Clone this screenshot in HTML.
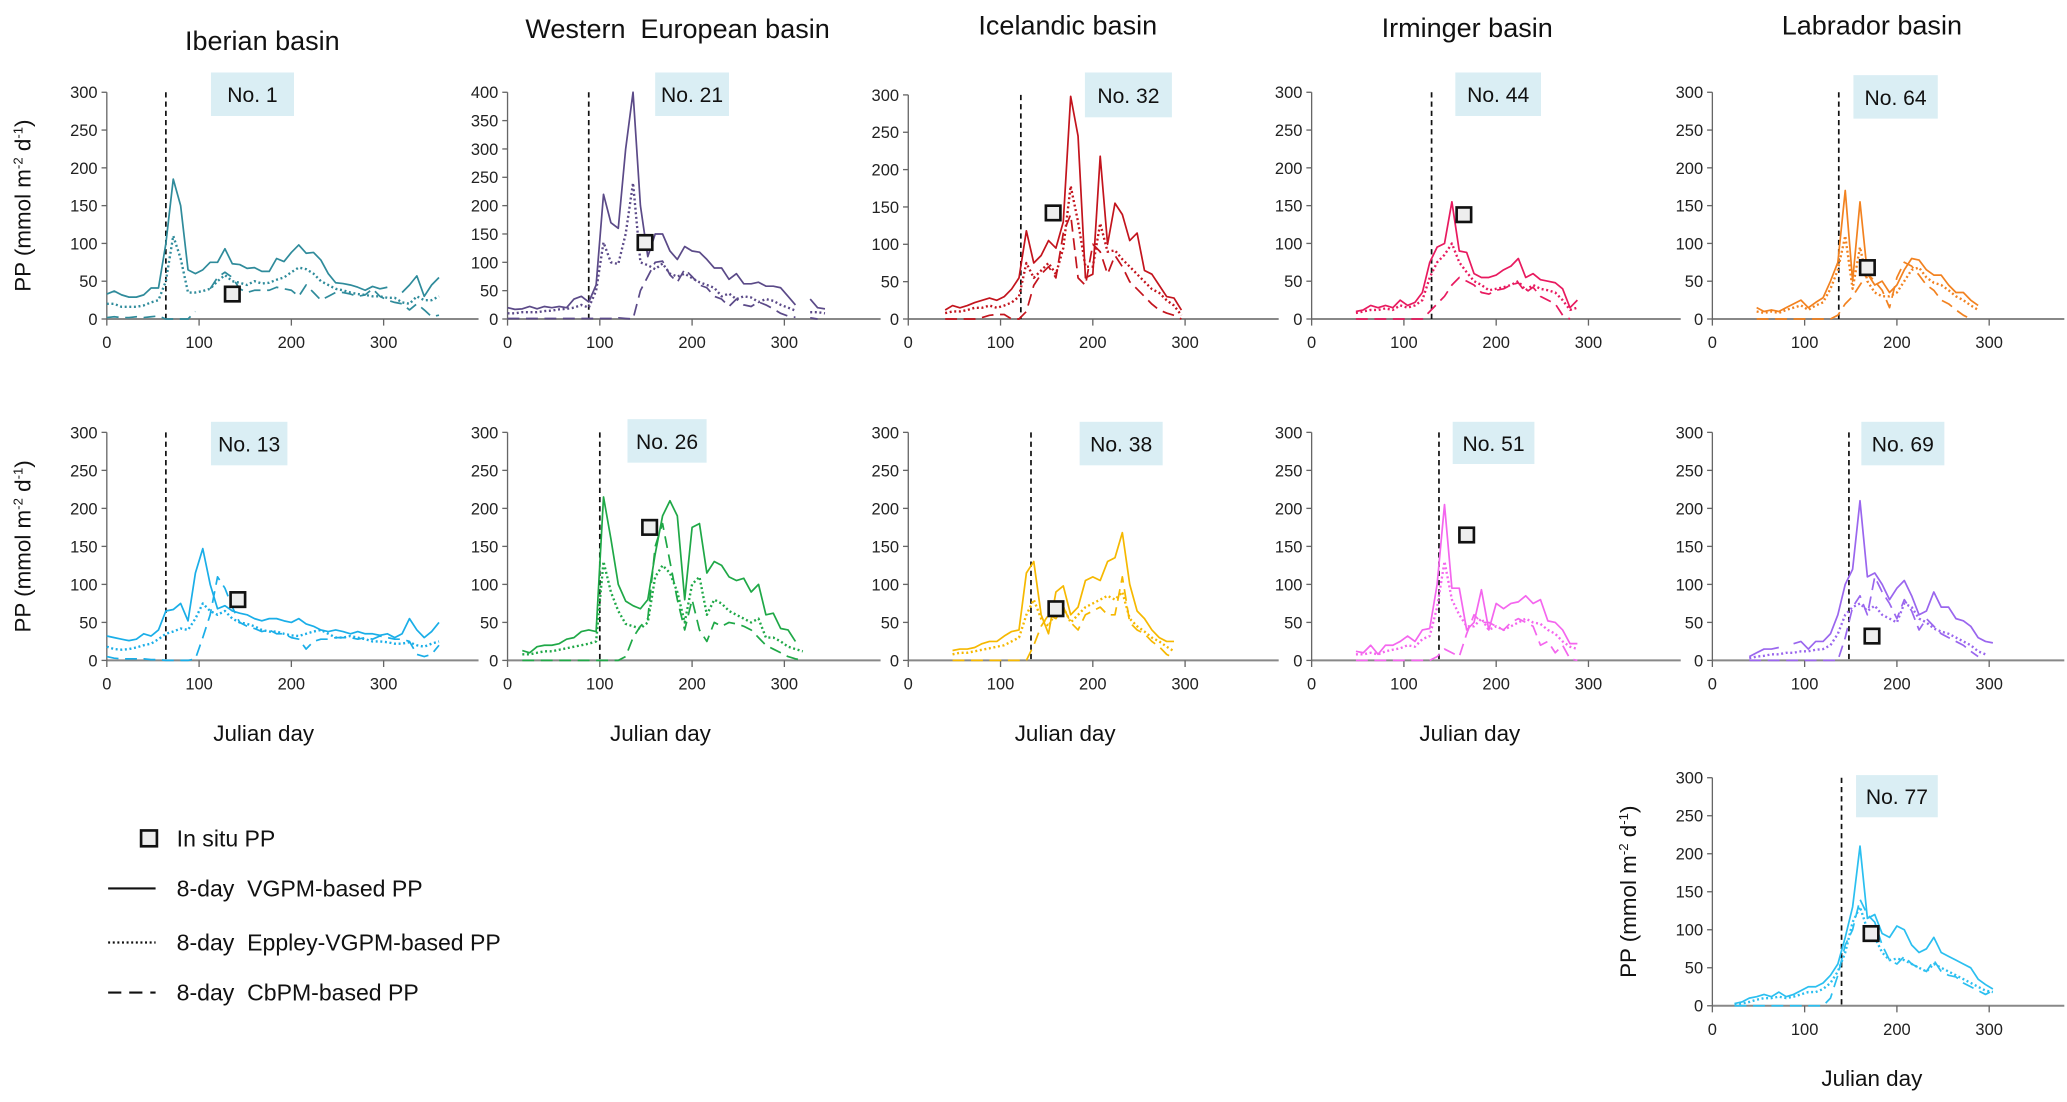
<!DOCTYPE html>
<html><head><meta charset="utf-8"><style>
html,body{margin:0;padding:0;background:#fff;}
svg{display:block;font-family:"Liberation Sans",sans-serif;}
.tk{font-family:"Liberation Sans Narrow","Liberation Sans",sans-serif;font-size:12.5px;fill:#222;}
</style></head><body>
<svg id="chart" width="2067" height="1102" viewBox="0 0 1568 836" xmlns="http://www.w3.org/2000/svg">
<g font-size="20.5" fill="#111" text-anchor="middle">
<text x="199" y="38">Iberian basin</text>
<text x="514" y="29">Western&#160; European basin</text>
<text x="810" y="26">Icelandic basin</text>
<text x="1113" y="28">Irminger basin</text>
<text x="1420" y="26">Labrador basin</text>
</g>
<g font-size="17.5" fill="#111">
<rect x="107" y="630" width="12" height="12" fill="#eee" stroke="#111" stroke-width="2"/>
<text x="134" y="642">In situ PP</text>
<line x1="82" y1="674" x2="118" y2="674" stroke="#111" stroke-width="1.6"/>
<text x="134" y="680">8-day&#160; VGPM-based PP</text>
<line x1="82" y1="715" x2="118" y2="715" stroke="#111" stroke-width="1.8" stroke-dasharray="1.5,2"/>
<text x="134" y="721">8-day&#160; Eppley-VGPM-based PP</text>
<line x1="82" y1="753" x2="118" y2="753" stroke="#111" stroke-width="1.6" stroke-dasharray="10,6"/>
<text x="134" y="759">8-day&#160; CbPM-based PP</text>
</g>
</svg>
<script>
// ---- data ----
const p1_start=0, p1_solid=[33,37,32,29,29,32,41,41,100,185,150,65,60,65,75,75,93,73,72,67,68,63,63,80,76,88,98,87,88,78,60,48,47,45,42,38,43,40,42,null,35,45,57,30,45,55];
const p1_dot=[20,20,16,16,16,18,22,25,50,110,80,35,35,37,40,50,58,50,48,45,50,47,48,52,55,62,68,66,60,50,45,40,38,35,33,32,30,30,28,28,22,20,30,25,25,30];
const p1_dash=[2,3,2,2,3,2,3,4,0,0,0,0,10,null,40,55,62,55,40,35,38,38,38,42,40,38,30,45,35,25,30,35,35,33,30,32,40,30,25,22,20,12,20,12,3,5];
const p1_insitu=[136,33];
const p21_start=0, p21_solid=[20,17,18,22,18,22,20,22,20,35,40,30,60,220,170,160,300,400,200,110,150,150,120,105,128,120,118,105,90,90,70,80,62,62,65,58,58,55,40,25,null,35,20,18];
const p21_dot=[10,10,12,12,12,14,15,17,18,20,25,20,50,135,100,97,150,240,100,95,88,98,80,75,80,72,65,60,55,40,45,35,40,38,30,35,32,25,20,15,null,12,12,10];
const p21_dash=[1,1,1,1,1,1,1,1,1,1,1,1,1,1,1,2,1,0,50,75,100,102,78,65,88,75,60,55,40,35,22,35,25,22,30,25,18,10,5,3,null,2,0,null];
const p21_insitu=[149,135];
const p32_start=40, p32_solid=[12,18,15,18,22,25,28,25,30,40,55,118,75,85,105,95,130,298,245,55,60,218,100,155,140,105,115,65,60,45,30,28,12];
const p32_dot=[8,10,10,12,15,15,18,15,18,22,30,75,55,65,75,60,95,178,130,70,70,128,90,92,80,70,60,50,40,35,25,18,5];
const p32_dash=[0,0,0,0,0,2,5,6,6,0,0,10,45,60,70,55,115,140,55,45,100,90,60,85,70,50,40,30,20,12,8,5,0];
const p32_insitu=[157,142];
const p44_start=48, p44_solid=[10,12,18,15,18,15,25,18,22,35,75,95,100,155,90,88,60,55,55,58,65,70,80,55,60,52,50,48,40,15,25];
const p44_dot=[8,10,12,12,14,12,18,15,18,25,55,75,85,100,75,62,50,45,38,40,42,45,50,38,45,40,38,35,25,12,15];
const p44_dash=[0,0,0,0,0,0,0,0,0,0,10,20,30,45,55,50,45,35,33,38,40,45,48,35,42,30,25,20,5,0,null];
const p44_insitu=[165,138];
const p64_start=48, p64_solid=[15,10,12,10,15,20,25,15,22,28,50,75,170,50,155,60,45,50,35,45,65,80,78,65,58,58,45,35,35,25,18];
const p64_dot=[10,8,10,8,12,15,18,12,18,22,40,65,110,40,95,50,35,30,30,35,50,65,68,55,48,45,38,30,25,18,12];
const p64_dash=[0,0,0,0,0,0,0,0,0,0,0,5,20,30,45,60,50,38,15,55,75,70,58,45,38,25,20,12,5,0,null];
const p64_insitu=[168,68];
const p13_start=0, p13_solid=[32,30,28,26,28,35,32,40,65,67,75,52,115,147,100,68,72,65,62,60,55,52,55,55,52,50,55,48,45,40,38,40,38,35,38,35,35,33,35,30,35,55,40,30,38,50];
const p13_dot=[18,15,14,15,17,20,22,28,35,38,42,40,55,75,65,60,65,55,50,48,45,40,38,38,35,33,32,35,38,40,35,30,30,32,30,28,25,25,24,22,22,24,20,18,22,25];
const p13_dash=[5,3,2,2,2,2,1,1,0,0,0,0,2,30,60,110,95,70,50,45,42,38,40,35,35,30,28,15,25,28,28,30,30,30,28,30,28,32,30,28,28,25,8,5,8,20];
const p13_insitu=[142,80];
const p26_start=16, p26_solid=[13,10,18,20,20,22,28,30,38,40,38,215,160,100,78,72,68,80,140,190,210,190,80,175,180,115,130,125,110,105,108,90,100,60,62,42,40,25,null];
const p26_dot=[8,8,10,12,12,14,16,18,20,22,25,130,90,65,48,45,42,50,110,125,115,90,50,100,110,60,80,75,65,60,55,50,55,30,30,25,18,15,12];
const p26_dash=[0,0,0,0,0,0,0,0,0,0,0,0,0,0,5,30,45,55,150,180,130,80,40,80,40,25,50,45,50,48,45,40,30,20,15,10,5,2,0];
const p26_insitu=[154,175];
const p38_start=48, p38_solid=[13,15,15,17,22,25,25,32,38,40,115,130,60,35,90,98,60,70,105,110,105,130,135,168,100,65,55,40,30,25,25];
const p38_dot=[8,10,10,12,14,16,18,20,25,30,60,80,55,45,65,70,50,60,70,75,80,85,80,90,55,45,38,30,25,18,12];
const p38_dash=[0,0,0,0,0,0,0,0,0,0,0,20,45,60,55,70,50,40,60,65,70,60,60,110,50,40,35,25,18,8,3];
const p38_insitu=[160,68];
const p51_start=48, p51_solid=[12,10,20,8,20,20,25,32,25,40,42,100,205,95,95,40,50,93,40,75,68,75,77,85,75,80,52,50,40,22,22];
const p51_dot=[8,8,10,8,12,14,16,20,18,28,32,70,130,80,60,45,45,55,40,45,40,45,50,55,50,48,40,35,25,18,15];
const p51_dash=[0,0,0,0,0,0,0,0,0,0,0,5,15,10,5,35,60,50,50,45,40,50,55,50,45,20,25,10,20,2,0];
const p51_insitu=[168,165];
const p69_start=40, p69_solid=[5,10,15,15,17,null,22,25,15,25,25,35,60,100,120,210,110,115,100,80,95,105,85,60,65,90,70,70,55,52,45,30,25,23];
const p69_dot=[3,5,6,8,8,10,10,12,12,14,15,20,35,60,70,75,65,72,60,55,50,75,70,55,50,42,38,35,30,25,20,12,8,null];
const p69_dash=[0,0,0,0,0,0,0,0,0,0,0,0,0,30,70,85,60,110,90,75,55,80,65,40,55,45,35,30,25,20,12,5,null,null];
const p69_insitu=[173,32];
const p77_start=24, p77_solid=[3,5,10,12,15,12,18,12,15,20,25,25,30,40,55,90,130,210,115,120,95,90,105,100,80,70,75,90,70,65,60,55,50,35,28,22];
const p77_dot=[2,3,5,8,10,10,12,10,12,15,18,18,22,30,45,70,110,130,100,90,70,60,62,60,55,50,45,55,50,45,40,35,30,25,20,18];
const p77_dash=[0,0,0,0,0,0,0,0,0,0,0,0,0,10,40,80,100,140,120,110,80,60,55,65,55,50,45,60,45,40,38,30,25,20,15,20];
const p77_insitu=[172,95];
const yTicks300=[0,50,100,150,200,250,300], yTicks400=[0,50,100,150,200,250,300,350,400], xTicks=[0,100,200,300];
const bloomDays=[64,88,122,130,137,64,100,133,138,148,140];

// ---- layout (not data) ----
const panels=[
 {id:'no-1',label:'No. 1',ax:81,y0:242,yt:70,ymax:300,xend:363,color:'#2f8b9b',s:p1_solid,d:p1_dot,c:p1_dash,st:p1_start,ins:p1_insitu,bl:bloomDays[0],box:[160,55,63,33],ylab:true},
 {id:'no-21',label:'No. 21',ax:385,y0:242,yt:70,ymax:400,xend:668,color:'#5b4a88',s:p21_solid,d:p21_dot,c:p21_dash,st:p21_start,ins:p21_insitu,bl:bloomDays[1],box:[497,55,56,33]},
 {id:'no-32',label:'No. 32',ax:689,y0:242,yt:72,ymax:300,xend:970,color:'#c3141d',s:p32_solid,d:p32_dot,c:p32_dash,st:p32_start,ins:p32_insitu,bl:bloomDays[2],box:[823,55,66,34]},
 {id:'no-44',label:'No. 44',ax:995,y0:242,yt:70,ymax:300,xend:1275,color:'#e81a5f',s:p44_solid,d:p44_dot,c:p44_dash,st:p44_start,ins:p44_insitu,bl:bloomDays[3],box:[1104,55,65,33]},
 {id:'no-64',label:'No. 64',ax:1299,y0:242,yt:70,ymax:300,xend:1566,color:'#f28220',s:p64_solid,d:p64_dot,c:p64_dash,st:p64_start,ins:p64_insitu,bl:bloomDays[4],box:[1406,57,64,33]},
 {id:'no-13',label:'No. 13',ax:81,y0:501,yt:328,ymax:300,xend:363,color:'#1aaee8',s:p13_solid,d:p13_dot,c:p13_dash,st:p13_start,ins:p13_insitu,bl:bloomDays[5],box:[160,320,58,33],ylab:true,jd:200},
 {id:'no-26',label:'No. 26',ax:385,y0:501,yt:328,ymax:300,xend:668,color:'#1fa847',s:p26_solid,d:p26_dot,c:p26_dash,st:p26_start,ins:p26_insitu,bl:bloomDays[6],box:[476,318,60,33],jd:501},
 {id:'no-38',label:'No. 38',ax:689,y0:501,yt:328,ymax:300,xend:970,color:'#f6b800',s:p38_solid,d:p38_dot,c:p38_dash,st:p38_start,ins:p38_insitu,bl:bloomDays[7],box:[819,320,63,33],jd:808},
 {id:'no-51',label:'No. 51',ax:995,y0:501,yt:328,ymax:300,xend:1275,color:'#f466ee',s:p51_solid,d:p51_dot,c:p51_dash,st:p51_start,ins:p51_insitu,bl:bloomDays[8],box:[1102,320,62,32],jd:1115},
 {id:'no-69',label:'No. 69',ax:1299,y0:501,yt:328,ymax:300,xend:1566,color:'#9a66ee',s:p69_solid,d:p69_dot,c:p69_dash,st:p69_start,ins:p69_insitu,bl:bloomDays[9],box:[1412,320,63,33]},
 {id:'no-77',label:'No. 77',ax:1299,y0:763,yt:590,ymax:300,xend:1566,color:'#2bbff0',s:p77_solid,d:p77_dot,c:p77_dash,st:p77_start,ins:p77_insitu,bl:bloomDays[10],box:[1408,588,62,32],ylab:true,jd:1420}
];
const NS='http://www.w3.org/2000/svg';
const svg=document.getElementById('chart');
function mk(tag,attrs,parent){const e=document.createElementNS(NS,tag);for(const k in attrs)e.setAttribute(k,attrs[k]);parent.appendChild(e);return e;}
panels.forEach(p=>{
  const g=mk('g',{},svg);
  
  
  const xs=d=>p.ax+d*0.7;
  const ys=v=>p.y0-(v/p.ymax)*(p.y0-p.yt);
  const b=mk('rect',{x:p.box[0],y:p.box[1],width:p.box[2],height:p.box[3],fill:'#daeef4'},g);
  
  
  const bt=mk('text',{x:p.box[0]+p.box[2]/2,y:p.box[1]+p.box[3]/2+6,'text-anchor':'middle','font-size':16,fill:'#111'},g);
  bt.textContent=p.label;
  
  
  const xa=mk('line',{x1:p.ax,y1:p.y0,x2:p.xend,y2:p.y0,stroke:'#888','stroke-width':1.5},g);
  
  
  const ya=mk('line',{x1:p.ax,y1:p.y0,x2:p.ax,y2:p.yt,stroke:'#666','stroke-width':1},g);
  
  
  xTicks.forEach(t=>{
    mk('line',{x1:xs(t),y1:p.y0,x2:xs(t),y2:p.y0+5,stroke:'#666'},g);
    const tx=mk('text',{x:xs(t),y:p.y0+22,'text-anchor':'middle',class:'tk'},g);
    tx.textContent=t;
    
    
  });
  (p.ymax===400?yTicks400:yTicks300).forEach(t=>{
    mk('line',{x1:p.ax-4,y1:ys(t),x2:p.ax,y2:ys(t),stroke:'#666'},g);
    const tx=mk('text',{x:p.ax-7,y:ys(t)+4.5,'text-anchor':'end',class:'tk'},g);
    tx.textContent=t;
    
    
  });
  if(p.ylab){
    const cy=(p.y0+p.yt)/2, cx=p.ax-58;
    const yl=mk('text',{x:cx,y:cy,'text-anchor':'middle','font-size':17,fill:'#111',transform:`rotate(-90 ${cx} ${cy})`},g);
    yl.innerHTML='PP (mmol m<tspan dy="-6" font-size="10">-2</tspan><tspan dy="6"> d</tspan><tspan dy="-6" font-size="10">-1</tspan><tspan dy="6">)</tspan>';
    
    
  }
  if(p.jd){
    const jl=mk('text',{x:p.jd,y:p.y0+61,'text-anchor':'middle','font-size':17,fill:'#111'},g);
    jl.textContent='Julian day';
    
    
  }
  const bl=mk('line',{x1:xs(p.bl),y1:p.yt,x2:xs(p.bl),y2:p.y0,stroke:'#111','stroke-width':1.3,'stroke-dasharray':'4,3'},g);
  
  
  const series=[[p.s,'',1.3,'vgpm-line'],[p.d,'1.5,2',1.8,'eppley-line'],[p.c,'9,5',1.3,'cbpm-line']];
  series.forEach(([arr,dash,w,name])=>{
    let d='',pen=false;
    arr.forEach((v,i)=>{
      if(v===null){pen=false;return;}
      const X=xs(p.st+i*8).toFixed(1),Y=ys(v).toFixed(1);
      d+=(pen?'L':'M')+X+' '+Y+' ';pen=true;
    });
    const path=mk('path',{d:d,fill:'none',stroke:p.color,'stroke-width':w,'stroke-linejoin':'round'},g);
    if(dash)path.setAttribute('stroke-dasharray',dash);
    
    
  });
  const sq=mk('rect',{x:xs(p.ins[0])-5.5,y:ys(p.ins[1])-5.5,width:11,height:11,fill:'#eee',stroke:'#111','stroke-width':2},g);
  
  
});
</script>
</body></html>
